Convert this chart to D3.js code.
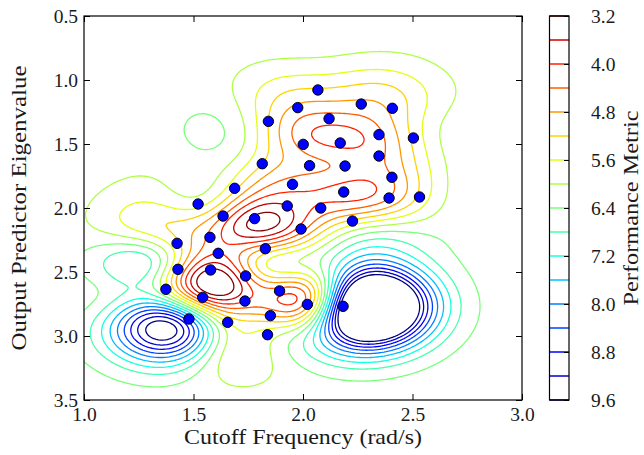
<!DOCTYPE html>
<html><head><meta charset="utf-8">
<script src="https://cdn.jsdelivr.net/npm/d3@7"></script>
<style>
body{margin:0;background:#fff}
svg{display:block}
text{font-family:"Liberation Serif","Times New Roman",serif;fill:#1a1a1a}
</style></head>
<body><svg id="chart" width="644" height="455"></svg>
<script>
// ---- data: sample positions and their metric ----
const cutoff = [2.068,1.976,2.266,2.408,2.119,1.842,2.347,2.001,2.170,2.504,2.347,1.814,2.030,2.192,2.406,1.688,1.952,2.186,2.393,2.532,1.521,1.928,2.081,1.635,1.779,2.226,1.991,1.575,1.828,1.613,1.578,1.738,1.893,1.542,1.735,2.020,2.183,1.851,1.656,1.838,1.425,1.429,1.374,1.479];
const eigen  = [1.078,1.216,1.188,1.221,1.302,1.323,1.427,1.503,1.492,1.453,1.594,1.654,1.669,1.672,1.760,1.846,1.815,1.875,1.922,1.914,1.969,1.984,2.000,2.063,2.083,2.102,2.164,2.229,2.318,2.354,2.484,2.531,2.648,2.698,2.727,2.753,2.768,2.841,2.893,2.990,2.276,2.479,2.635,2.867];
const perf   = [5.15,4.7,4.7,4.9,4.2,5.2,4.3,4.25,3.9,5.3,4.3,5.2,4.5,4.3,4.4,5.3,4.2,3.85,4.4,5.3,5.75,3.6,4.1,4.4,3.1,5.3,4.2,4.3,4.8,4.0,3.15,4.2,4.2,3.9,4.0,4.7,10.1,4.8,5.6,5.8,5.3,5.0,5.8,8.1];
const levels = [3.2,3.6,4.0,4.4,4.8,5.2,5.6,6.0,6.4,6.8,7.2,7.6,8.0,8.4,8.8,9.2,9.6];
const xTicks = [1.0,1.5,2.0,2.5,3.0];
const yTicks = [0.5,1.0,1.5,2.0,2.5,3.0,3.5];
const cbTicks = [3.2,4.0,4.8,5.6,6.4,7.2,8.0,8.8,9.6];
const meanLevel = 6.2;
const lengthScale = 0.21;
const nugget = 1e-5;

// ---- layout ----
const svg = d3.select("#chart");
const L = 84, R = 522, T = 16, B = 400;
const x = d3.scaleLinear().domain([1,3]).range([L,R]);
const y = d3.scaleLinear().domain([0.5,3.5]).range([T,B]);
const cb = d3.scaleLinear().domain([3.2,9.6]).range([T,B]);

// jet colormap, reversed over the level range
const jetR=[[0,0],[0.35,0],[0.66,1],[0.89,1],[1,0.5]];
const jetG=[[0,0],[0.125,0],[0.375,1],[0.64,1],[0.91,0],[1,0]];
const jetB=[[0,0.5],[0.11,1],[0.34,1],[0.65,0],[1,0]];
function seg(s,t){for(let i=1;i<s.length;i++){if(t<=s[i][0]){const a=s[i-1],b=s[i];return a[1]+(b[1]-a[1])*(t-a[0])/(b[0]-a[0]);}}return s[s.length-1][1];}
function color(v){const t=Math.max(0,Math.min(1,(9.6-v)/6.4));return d3.rgb(255*seg(jetR,t),255*seg(jetG,t),255*seg(jetB,t)).toString();}

// ---- Gaussian-process surface through the samples ----
const n = cutoff.length, inv = 1/(2*lengthScale*lengthScale);
const K = [];
for(let i=0;i<n;i++){K.push([]);for(let j=0;j<n;j++){const dx=cutoff[i]-cutoff[j],dy=eigen[i]-eigen[j];K[i].push(Math.exp(-(dx*dx+dy*dy)*inv)+(i===j?nugget:0));}}
const Lc = K.map(()=>new Array(n).fill(0));
for(let i=0;i<n;i++){for(let j=0;j<=i;j++){let s=K[i][j];for(let k=0;k<j;k++)s-=Lc[i][k]*Lc[j][k];if(i===j)Lc[i][i]=Math.sqrt(Math.max(s,1e-12));else Lc[i][j]=s/Lc[j][j];}}
const bv = perf.map(v=>v-meanLevel), yv=new Array(n).fill(0), alpha=new Array(n).fill(0);
for(let i=0;i<n;i++){let s=bv[i];for(let k=0;k<i;k++)s-=Lc[i][k]*yv[k];yv[i]=s/Lc[i][i];}
for(let i=n-1;i>=0;i--){let s=yv[i];for(let k=i+1;k<n;k++)s-=Lc[k][i]*alpha[k];alpha[i]=s/Lc[i][i];}

const h=0.01, gx0=0.97, gy0=0.47, nx=207, ny=307;
const values=new Float64Array(nx*ny);
for(let j=0;j<ny;j++){const yy=gy0+j*h;for(let i=0;i<nx;i++){const xx=gx0+i*h;let s=meanLevel;for(let k=0;k<n;k++){const dx=xx-cutoff[k],dy=yy-eigen[k];s+=alpha[k]*Math.exp(-(dx*dx+dy*dy)*inv);}values[j*nx+i]=s;}}

const contours = d3.contours().size([nx,ny]).thresholds(levels)(values);
const proj = d3.geoTransform({point(px,py){this.stream.point(x(gx0+(px-0.5)*h), y(gy0+(py-0.5)*h));}});
const path = d3.geoPath(proj);

svg.append("clipPath").attr("id","plotclip").append("rect").attr("x",L).attr("y",T).attr("width",R-L).attr("height",B-T);
svg.append("g").attr("clip-path","url(#plotclip)")
  .selectAll("path").data(contours).join("path")
  .attr("d",path).attr("fill","none")
  .attr("stroke",d=>color(d.value)).attr("stroke-width",1.3).attr("stroke-linejoin","round");

// scatter samples
svg.append("g").selectAll("circle").data(cutoff).join("circle")
  .attr("cx",(d,i)=>x(cutoff[i])).attr("cy",(d,i)=>y(eigen[i])).attr("r",5.2)
  .attr("fill","#0000ff").attr("stroke","#000").attr("stroke-width",1);

// frame
svg.append("rect").attr("x",L).attr("y",T).attr("width",R-L).attr("height",B-T).attr("fill","none").attr("stroke","#000").attr("stroke-width",1.2);

// axes with inward ticks
const fmt=d3.format(".1f");
function styleAxis(g){g.select(".domain").remove();g.selectAll("line").attr("stroke","#000");g.selectAll("text").attr("font-size",19.5).attr("font-family","Liberation Serif, serif").attr("fill","#1a1a1a");}
svg.append("g").attr("transform",`translate(0,${B})`).call(d3.axisBottom(x).tickValues(xTicks).tickFormat(fmt).tickSizeInner(-6).tickSizeOuter(0).tickPadding(7)).call(styleAxis);
svg.append("g").attr("transform",`translate(0,${T})`).call(d3.axisTop(x).tickValues(xTicks).tickFormat("").tickSizeInner(-6).tickSizeOuter(0)).call(styleAxis);
svg.append("g").attr("transform",`translate(${L},0)`).call(d3.axisLeft(y).tickValues(yTicks).tickFormat(fmt).tickSizeInner(-6).tickSizeOuter(0).tickPadding(6)).call(styleAxis);
svg.append("g").attr("transform",`translate(${R},0)`).call(d3.axisRight(y).tickValues(yTicks).tickFormat("").tickSizeInner(-6).tickSizeOuter(0)).call(styleAxis);

// axis titles
svg.append("text").attr("x",(L+R)/2).attr("y",444).attr("text-anchor","middle").attr("font-size",22).attr("textLength",238).attr("lengthAdjust","spacingAndGlyphs").text("Cutoff Frequency (rad/s)");
svg.append("text").attr("transform",`translate(26,${(T+B)/2}) rotate(-90)`).attr("text-anchor","middle").attr("font-size",22).attr("textLength",285).attr("lengthAdjust","spacingAndGlyphs").text("Output Predictor Eigenvalue");

// colorbar
const cbL=549.5, cbR=569;
svg.append("g").selectAll("line").data(levels).join("line")
  .attr("x1",cbL).attr("x2",cbR).attr("y1",d=>cb(d)).attr("y2",d=>cb(d))
  .attr("stroke",d=>color(d)).attr("stroke-width",1.5);
svg.append("g").attr("transform",`translate(${cbR},0)`).call(d3.axisRight(cb).tickValues(cbTicks).tickFormat(fmt).tickSizeInner(-5).tickSizeOuter(0).tickPadding(22)).call(styleAxis);
svg.append("rect").attr("x",cbL).attr("y",T).attr("width",cbR-cbL).attr("height",B-T).attr("fill","none").attr("stroke","#000").attr("stroke-width",1.2);
svg.append("text").attr("transform",`translate(638,${(T+B)/2}) rotate(-90)`).attr("text-anchor","middle").attr("font-size",22).attr("textLength",195).attr("lengthAdjust","spacingAndGlyphs").text("Performance Metric");
</script></body></html>
